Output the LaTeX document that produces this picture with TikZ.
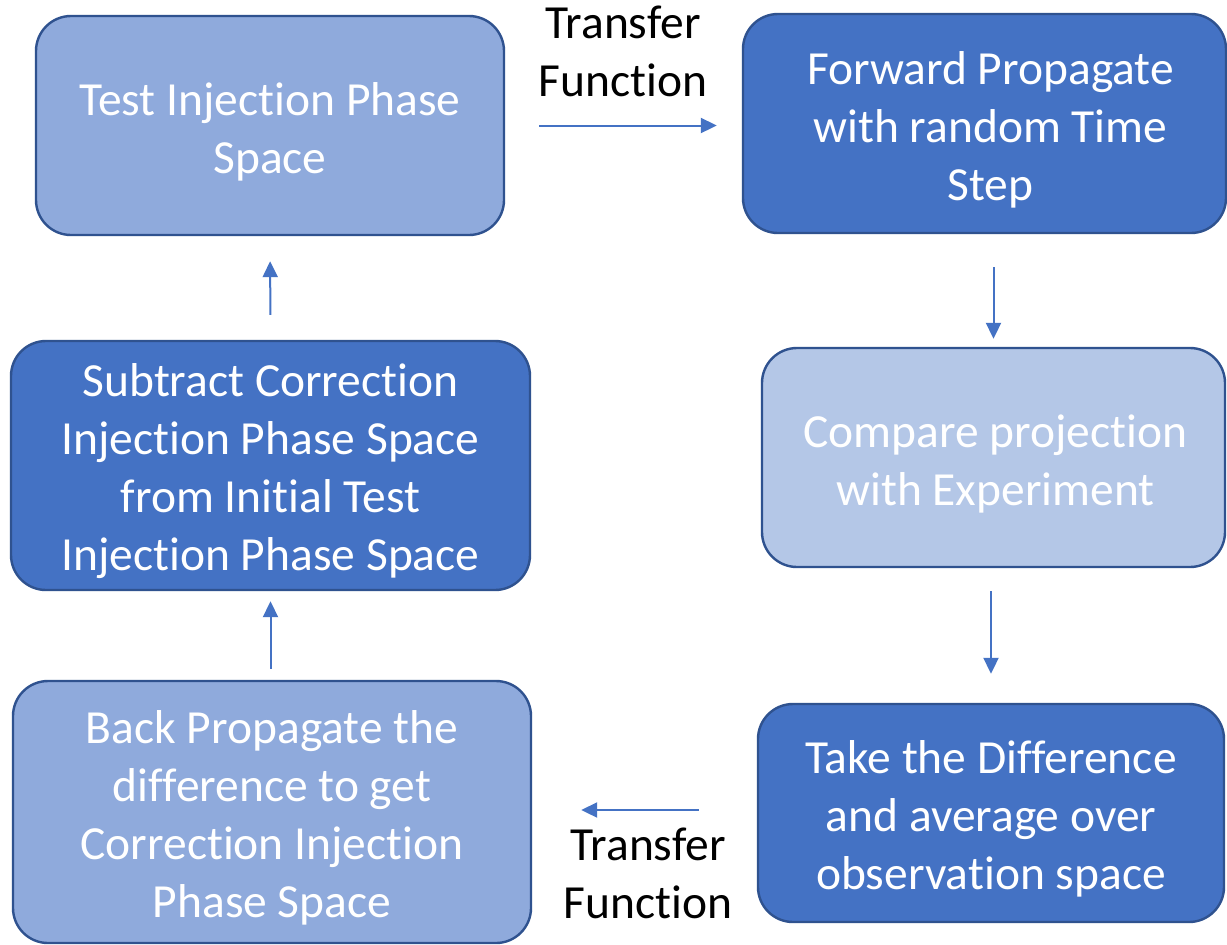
\documentclass[tikz,border=0pt]{standalone}
\usepackage{fontspec}
\setmainfont{Carlito}[Ligatures=NoCommon]
\usetikzlibrary{arrows.meta}
\newcommand\tii{t\kern0pt i}
\definecolor{dkblue}{HTML}{4472C4}
\definecolor{mdblue}{HTML}{8FAADC}
\definecolor{ltblue}{HTML}{B4C7E7}
\definecolor{edge}{HTML}{2F528F}
\tikzset{
  box/.style={draw=edge, line width=1.2pt, rounded corners=17.5pt, inner sep=0pt},
  boxtext/.style={align=center, text=white, inner sep=0pt, yshift=-3pt,
    font=\fontsize{23.75pt}{29pt}\selectfont},
  arr/.style={draw=dkblue, line width=1pt, -{Triangle[length=8pt,width=7.5pt]}},
  lbl/.style={align=center, text=black, font=\fontsize{23.75pt}{29pt}\selectfont, inner sep=0pt}
}
\begin{document}
\begin{tikzpicture}[x=0.5pt,y=-0.5pt]
\fill[white] (0,0) rectangle (1227,944);
\useasboundingbox (0,0) rectangle (1227,944);
\begin{scope}
\clip (0,0) rectangle (1227,944);
\node[box, fill=mdblue, minimum width=234pt, minimum height=109.5pt,
  label={[boxtext]center:{Test Injec\tii on Phase\\Space}}] (b1) at (270,125.5) {};
\node[box, fill=dkblue, minimum width=241.5pt, minimum height=109.5pt,
  label={[boxtext, xshift=3pt]center:{Forward Propagate\\with random Time\\Step}}] (b2) at (984.5,123.5) {};
\node[box, fill=ltblue, minimum width=231.5pt, minimum height=109.5pt,
  label={[boxtext, xshift=1pt]center:{Compare projec\tii on\\with Experiment}}] (b3) at (993.5,457.5) {};
\node[box, fill=dkblue, minimum width=233pt, minimum height=109pt,
  label={[boxtext]center:{Take the Difference\\and average over\\observa\tii on space}}] (b4) at (991,813) {};
\node[box, fill=mdblue, minimum width=259pt, minimum height=131pt,
  label={[boxtext]center:{Back Propagate the\\difference to get\\Correc\tii on Injec\tii on\\Phase Space}}] (b5) at (272,812) {};
\node[box, fill=dkblue, minimum width=259.5pt, minimum height=124.5pt,
  label={[boxtext]center:{Subtract Correc\tii on\\Injec\tii on Phase Space\\from Ini\tii al Test\\Injec\tii on Phase Space}}] (b6) at (270.5,465.5) {};
\end{scope}
\node[lbl] (t1) at (623,51) {Transfer\\Func\tii on};
\node[lbl] (t2) at (648,873) {Transfer\\Func\tii on};
\draw[arr, shorten <=17pt, shorten >=12.5pt] (b1.east) -- (b1.east -| b2.west);
\draw[arr, shorten <=16.5pt, shorten >=4pt] (b2.south -| b3.north) -- (b3.north);
\draw[arr, shorten <=11.5pt, shorten >=14.5pt] (b3.south -| b4.north) -- (b4.north);
\draw[arr, shorten <=29pt, shorten >=24.5pt] (b4.west |- 0,810) -- (b5.east |- 0,810);
\draw[arr, shorten <=5.5pt, shorten >=5pt] (b5.north -| b6.south) -- (b6.south);
\draw[arr, shorten <=12.5pt, shorten >=12.5pt] (b6.north) -- (b1.south);
\end{tikzpicture}
\end{document}
